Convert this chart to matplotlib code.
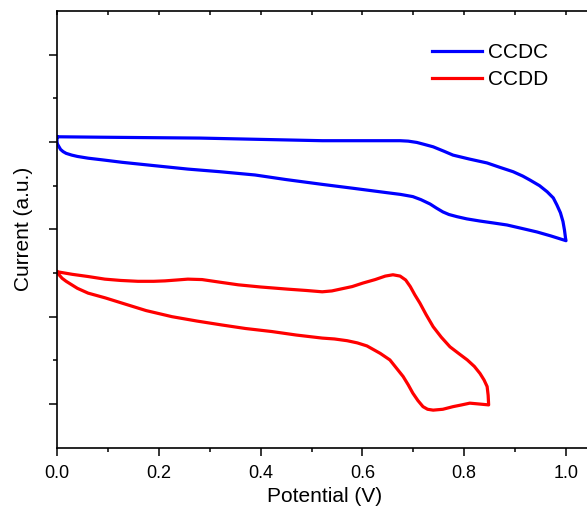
import numpy as np
import matplotlib
matplotlib.use("Agg")
import matplotlib.pyplot as plt

plt.rcParams['font.family'] = ['Liberation Sans', 'DejaVu Sans']

# CCDC loop (forward sweep, then reverse)
ccdc_x = [0.0, 0.085, 0.181, 0.281, 0.4, 0.521, 0.6, 0.674, 0.69, 0.707, 0.72, 0.739, 0.76,
          0.778, 0.81, 0.845, 0.87, 0.896, 0.915, 0.929, 0.948, 0.963, 0.975, 0.982, 0.989,
          0.994, 0.997, 0.999, 1.0,
          0.97, 0.943, 0.91, 0.884, 0.855, 0.831, 0.805, 0.786, 0.77, 0.758, 0.745,
          0.733, 0.715, 0.699, 0.675, 0.648, 0.615, 0.582, 0.521, 0.45, 0.389, 0.32,
          0.257, 0.19, 0.128, 0.09, 0.061, 0.04, 0.029, 0.018, 0.012, 0.007, 0.004,
          0.001, 0.0, 0.0]
ccdc_y = [7.12, 7.11, 7.10, 7.09, 7.06, 7.03, 7.03, 7.03, 7.02, 6.99, 6.95, 6.89, 6.79,
          6.70, 6.61, 6.52, 6.42, 6.32, 6.22, 6.13, 6.00, 5.86, 5.72, 5.56, 5.38,
          5.18, 4.98, 4.80, 4.74,
          4.85, 4.94, 5.03, 5.10, 5.15, 5.19, 5.24, 5.29, 5.34, 5.40, 5.49,
          5.58, 5.68, 5.75, 5.80, 5.84, 5.89, 5.94, 6.03, 6.14, 6.245, 6.32,
          6.38, 6.46, 6.535, 6.59, 6.63, 6.67, 6.70, 6.74, 6.78, 6.83, 6.89,
          6.95, 7.0, 7.12]

# CCDD loop
ccdd_x = [0.0, 0.03, 0.061, 0.094, 0.125, 0.159, 0.19, 0.212, 0.235, 0.257, 0.285,
          0.32, 0.356, 0.40, 0.454, 0.49, 0.521, 0.54, 0.556, 0.58, 0.601, 0.625,
          0.645, 0.66, 0.674, 0.685, 0.694, 0.703, 0.713, 0.725, 0.739, 0.755, 0.772,
          0.79, 0.806, 0.82, 0.831, 0.839, 0.845, 0.847, 0.848,
          0.83, 0.811, 0.795, 0.778, 0.758, 0.739, 0.728, 0.719, 0.709, 0.699, 0.69,
          0.68, 0.667, 0.654, 0.635, 0.609, 0.59, 0.57, 0.545, 0.521, 0.47, 0.422,
          0.37, 0.324, 0.275, 0.226, 0.175, 0.128, 0.095, 0.061, 0.04, 0.029, 0.018,
          0.01, 0.004, 0.0]
ccdd_y = [4.03, 3.97, 3.92, 3.86, 3.83, 3.81, 3.81, 3.82, 3.84, 3.86, 3.85,
          3.79, 3.73, 3.68, 3.63, 3.60, 3.57, 3.59, 3.63, 3.69, 3.77, 3.85,
          3.93, 3.96, 3.93, 3.84, 3.69, 3.50, 3.31, 3.05, 2.77, 2.53, 2.31,
          2.15, 2.01, 1.86, 1.70, 1.55, 1.40, 1.20, 0.98,
          1.00, 1.02, 0.98, 0.94, 0.88, 0.86, 0.88, 0.94, 1.08, 1.25, 1.44,
          1.63, 1.82, 2.01, 2.16, 2.33, 2.40, 2.45, 2.49, 2.51, 2.58, 2.66,
          2.73, 2.81, 2.90, 3.00, 3.14, 3.31, 3.43, 3.54, 3.65, 3.73, 3.81,
          3.88, 3.96, 4.03]

labels = ["CCDC", "CCDD"]

W, H = 587, 511
fig = plt.figure(figsize=(W / 100, H / 100), dpi=100)
ax = fig.add_axes([57 / W, 63.3 / H, 536 / W, 436.7 / H])

ax.plot(ccdc_x, ccdc_y, color='#0000ff', lw=2.3, solid_joinstyle='round', label=labels[0])
ax.plot(ccdd_x, ccdd_y, color='#ff0000', lw=2.3, solid_joinstyle='round', label=labels[1])

ax.set_xlim(0, 1.053)
ax.set_ylim(0, 10)
ax.set_xticks(np.arange(0, 1.01, 0.2))
ax.set_xticks(np.arange(0.1, 1.01, 0.2), minor=True)
ax.set_yticks([1, 3, 5, 7, 9])
ax.set_yticks([2, 4, 6, 8], minor=True)
ax.set_yticklabels([])
ax.set_xticklabels(["0.0", "0.2", "0.4", "0.6", "0.8", "1.0"])

for s in ax.spines.values():
    s.set_linewidth(1.2)
ax.spines['right'].set_visible(False)

ax.tick_params(which='major', direction='out', length=5.8, width=1.1, labelsize=13, pad=7)
ax.tick_params(which='minor', direction='out', length=3, width=1.1)
ax.tick_params(axis='x', which='both', top=True)
ax.xaxis.set_tick_params(which='both', labeltop=False)
# top ticks point inward like the original
for t in ax.xaxis.get_major_ticks() + ax.xaxis.get_minor_ticks():
    t.tick2line.set_marker(3)
    t.tick2line.set_markersize(3)

ax.set_xlabel("Potential (V)", fontsize=15, labelpad=3)
ax.set_ylabel("Current (a.u.)", fontsize=15, labelpad=4.5)

ax.legend(loc='upper left', bbox_to_anchor=(432 / W, 1 - 43 / H),
          bbox_transform=fig.transFigure, frameon=False, fontsize=15,
          handlelength=2.4, handletextpad=0.3, labelspacing=0.4, borderpad=0,
          borderaxespad=0)

fig.savefig("out.png", dpi=100)
